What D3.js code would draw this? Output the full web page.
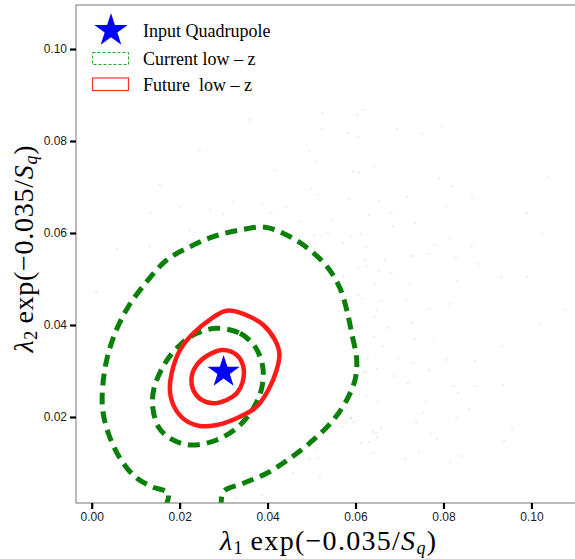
<!DOCTYPE html>
<html><head><meta charset="utf-8">
<script src="https://cdn.jsdelivr.net/npm/d3@7/dist/d3.min.js"></script>
<style>body{margin:0;background:#fff}svg{display:block}</style>
</head><body><svg id="c" width="575" height="559"></svg>
<script>
const xTicks=[0,0.02,0.04,0.06,0.08,0.10];
const yTicks=[0.02,0.04,0.06,0.08,0.10];
const tickLabels=["0.00","0.02","0.04","0.06","0.08","0.10"];
const inputPoint=[0.0300,0.0298];
const currentOuter=[[0.0167,0.0004],[0.01742,0.00341],[0.01365,0.00485],[0.00985,0.00702],[0.00644,0.01102],[0.00378,0.01646],[0.0025,0.02152],[0.0025,0.02659],[0.00341,0.03239],[0.0053,0.0382],[0.00832,0.04398],[0.01251,0.04941],[0.01706,0.05413],[0.02236,0.05702],[0.02766,0.0592],[0.03373,0.06065],[0.03941,0.06124],[0.04435,0.05957],[0.04965,0.0563],[0.05381,0.05233],[0.05647,0.04798],[0.058,0.04326],[0.05913,0.0382],[0.06027,0.03239],[0.05988,0.02804],[0.058,0.0237],[0.05495,0.01935],[0.0504,0.015],[0.0451,0.01102],[0.0398,0.00776],[0.03448,0.00559],[0.02993,0.00376],[0.02952,0.0004]];
const currentInner=[[0.02843,0.03928],[0.03373,0.0382],[0.03714,0.03528],[0.03889,0.03093],[0.03866,0.02624],[0.03675,0.02189],[0.03334,0.01789],[0.02843,0.015],[0.02236,0.01391],[0.01781,0.01537],[0.01515,0.01789],[0.01387,0.02224],[0.01417,0.02624],[0.01667,0.03167],[0.02008,0.03565],[0.02388,0.0382]];
const futureOuter=[[0.03184,0.04311],[0.036,0.0418],[0.03903,0.04],[0.04169,0.03674],[0.04267,0.03385],[0.04207,0.03022],[0.04016,0.02587],[0.03753,0.02224],[0.03373,0.02007],[0.02843,0.01826],[0.02463,0.01804],[0.02122,0.01935],[0.01894,0.02189],[0.01781,0.0255],[0.01819,0.0295],[0.02008,0.03457],[0.02311,0.0382],[0.02729,0.04146],[0.02993,0.04289]];
const futureInner=[[0.02993,0.03457],[0.03298,0.03348],[0.03448,0.03093],[0.03434,0.02767],[0.03298,0.02515],[0.0307,0.0237],[0.02766,0.02298],[0.02502,0.0237],[0.02311,0.02587],[0.02274,0.02876],[0.02388,0.0313],[0.02652,0.03348]];
const samples=[[0.0525,0.0860],[0.0603,0.0857],[0.0617,0.0867],[0.0523,0.0826],[0.0583,0.0817],[0.0606,0.0809],[0.0694,0.0826],[0.0751,0.0815],[0.0796,0.0831],[0.0494,0.0777],[0.0508,0.0755],[0.0594,0.0733],[0.0608,0.0731],[0.0642,0.0746],[0.0790,0.0720],[0.0819,0.0702],[0.1037,0.0722],[0.0498,0.0696],[0.0515,0.0683],[0.0585,0.0674],[0.0653,0.0670],[0.0717,0.0679],[0.0865,0.0677],[0.0682,0.0643],[0.0631,0.0638],[0.0546,0.0627],[0.0805,0.0659],[0.0990,0.0643],[0.0735,0.0622],[0.0685,0.0614],[0.1024,0.0598],[0.0506,0.0596],[0.0591,0.0592],[0.0612,0.0598],[0.0625,0.0570],[0.0815,0.0590],[0.0781,0.0574],[0.0864,0.0570],[0.0667,0.0541],[0.0728,0.0550],[0.0767,0.0554],[0.0828,0.0546],[0.0878,0.0533],[0.0625,0.0528],[0.0606,0.0524],[0.0653,0.0518],[0.0682,0.0513],[0.0931,0.0504],[0.0990,0.0505],[0.0572,0.0505],[0.0724,0.0489],[0.0832,0.0496],[0.0644,0.0489],[0.0614,0.0457],[0.0658,0.0452],[0.0715,0.0454],[0.0767,0.0435],[0.0815,0.0446],[0.1076,0.0433],[0.0644,0.0418],[0.0674,0.0394],[0.0728,0.0405],[0.1020,0.0402],[0.0642,0.0374],[0.0735,0.0370],[0.0778,0.0370],[0.0932,0.0353],[0.0663,0.0353],[0.0697,0.0329],[0.0628,0.0328],[0.0730,0.0317],[0.0807,0.0324],[0.0872,0.0322],[0.0619,0.0296],[0.0649,0.0304],[0.0688,0.0289],[0.0767,0.0302],[0.0719,0.0274],[0.0821,0.0267],[0.0872,0.0267],[0.0935,0.0270],[0.0624,0.0246],[0.0651,0.0233],[0.0760,0.0233],[0.0833,0.0253],[0.0858,0.0217],[0.0753,0.0209],[0.0591,0.0198],[0.0597,0.0190],[0.0580,0.0188],[0.0738,0.0188],[0.0829,0.0198],[0.0658,0.0176],[0.0640,0.0168],[0.0569,0.0178],[0.0956,0.0174],[0.0773,0.0163],[0.0785,0.0152],[0.0938,0.0148],[0.0612,0.0143],[0.0631,0.0146],[0.0649,0.0157],[0.0512,0.0133],[0.0744,0.0125],[0.0713,0.0109],[0.0841,0.0115],[0.0494,0.0109],[0.0815,0.0101],[0.0515,0.0111],[0.0136,0.0643],[0.0224,0.0605],[0.0299,0.0641],[0.0409,0.0643],[0.0443,0.0657],[0.0476,0.0625],[0.0537,0.0601],[0.0572,0.0578],[0.0622,0.0541],[0.0010,0.0472],[0.0057,0.0565],[0.0133,0.0570],[0.0110,0.0476],[0.0606,0.0465],[0.0648,0.0433],[0.0624,0.0298],[0.0589,0.0198],[0.0647,0.0165],[0.0640,0.0122],[0.0519,0.0070],[0.0458,0.0078],[0.0387,0.0030],[0.0330,0.0024],[0.0201,0.0657],[0.0269,0.0651],[0.0387,0.0662],[0.0321,0.0668],[0.0246,0.0780],[0.0360,0.0846],[0.0417,0.0737],[0.0155,0.0704]];
const legendLabels=["Input Quadrupole","Current low \u2013 z","Future  low \u2013 z"];

const svg=d3.select("#c");
const L=76,R=576,T=5,B=503;
const x=d3.scaleLinear().domain([-0.00357,0.11014]).range([L,R]);
const y=d3.scaleLinear().domain([0.0013,0.10957]).range([B,T]);

svg.append("defs").append("clipPath").attr("id","clip").append("rect").attr("x",L).attr("y",T).attr("width",R-L).attr("height",B-T);
const plot=svg.append("g").attr("clip-path","url(#clip)");

plot.selectAll("circle.s").data(samples).join("circle").attr("class","s")
  .attr("cx",d=>x(d[0])).attr("cy",d=>y(d[1])).attr("r",1.1)
  .attr("fill","rgba(0,140,0,0.13)");

const lineOpen=d3.line().x(d=>x(d[0])).y(d=>y(d[1])).curve(d3.curveCatmullRom.alpha(0.5));
const lineClosed=d3.line().x(d=>x(d[0])).y(d=>y(d[1])).curve(d3.curveCatmullRomClosed.alpha(0.5));
const green="#0a800a", red="#ff1a1a";
plot.append("path").attr("d",lineOpen(currentOuter)).attr("fill","none").attr("stroke",green).attr("stroke-width",5).attr("stroke-dasharray","12,7");
plot.append("path").attr("d",lineClosed(currentInner)).attr("fill","none").attr("stroke",green).attr("stroke-width",5).attr("stroke-dasharray","12,7");
plot.append("path").attr("d",lineClosed(futureOuter)).attr("fill","none").attr("stroke",red).attr("stroke-width",4.5);
plot.append("path").attr("d",lineClosed(futureInner)).attr("fill","none").attr("stroke",red).attr("stroke-width",4.5);

function starPath(cx,cy,r){
  const ri=r*0.382;let p=[];
  for(let i=0;i<10;i++){const a=-Math.PI/2+i*Math.PI/5;const rr=i%2?ri:r;p.push([cx+rr*Math.cos(a),cy+rr*Math.sin(a)]);}
  return "M"+p.map(q=>q.join(",")).join("L")+"Z";
}
plot.append("path").attr("d",starPath(x(inputPoint[0]),y(inputPoint[1]),17)).attr("fill","#0000ff");

// panel border
svg.append("rect").attr("x",L).attr("y",T).attr("width",R-L+5).attr("height",B-T).attr("fill","none").attr("stroke","#8c8c8c").attr("stroke-width",1.2);

// axes
const xa=svg.append("g").attr("transform",`translate(0,${B})`)
  .call(d3.axisBottom(x).tickValues(xTicks).tickSize(6).tickPadding(3).tickFormat((d,i)=>tickLabels[i]));
const ya=svg.append("g").attr("transform",`translate(${L},0)`)
  .call(d3.axisLeft(y).tickValues(yTicks).tickSize(6).tickPadding(3).tickFormat((d,i)=>tickLabels[i+1]));
[xa,ya].forEach(a=>{a.select(".domain").remove();a.selectAll(".tick line").attr("stroke","#000").attr("stroke-width",2.2);
  a.selectAll(".tick text").attr("font-family","Liberation Sans, Arial, sans-serif").attr("font-size",12).attr("fill","#1a1a1a");});

// axis titles
function mathTitle(g,sub,len){
  const t=g.append("text").attr("font-family","Liberation Serif, Times New Roman, serif").attr("font-size",28).attr("fill","#000")
    .attr("text-anchor","middle").attr("textLength",len).attr("lengthAdjust","spacing");
  t.append("tspan").attr("font-style","italic").text("\u03bb");
  t.append("tspan").attr("font-size",18).attr("dy",4).text(sub);
  t.append("tspan").attr("dy",-4).text("\u2009exp(\u22120.035/");
  t.append("tspan").attr("font-style","italic").text("S");
  t.append("tspan").attr("font-style","italic").attr("font-size",18).attr("dy",4).text("q");
  t.append("tspan").attr("dy",-4).text(")");
  return t;
}
mathTitle(svg.append("g").attr("transform","translate(328,550)"),"1",216);
mathTitle(svg.append("g").attr("transform","translate(33,249) rotate(-90)"),"2",207);

// legend
const lg=svg.append("g");
lg.append("path").attr("d",starPath(111,30.5,17.5)).attr("fill","#0000ff");
lg.append("rect").attr("x",92.5).attr("y",52.5).attr("width",36).attr("height",12).attr("fill","none").attr("stroke","#2ca02c").attr("stroke-width",1).attr("stroke-dasharray","3,2");
lg.append("rect").attr("x",92.5).attr("y",78).attr("width",36).attr("height",12.5).attr("fill","none").attr("stroke","#ff3030").attr("stroke-width",1.2);
lg.selectAll("text").data(legendLabels).join("text").attr("x",143).attr("y",(d,i)=>[37,64.5,90.5][i])
  .attr("font-family","Liberation Serif, Times New Roman, serif").attr("font-size",18).attr("fill","#000")
  .style("white-space","pre").text(d=>d);
</script></body></html>
